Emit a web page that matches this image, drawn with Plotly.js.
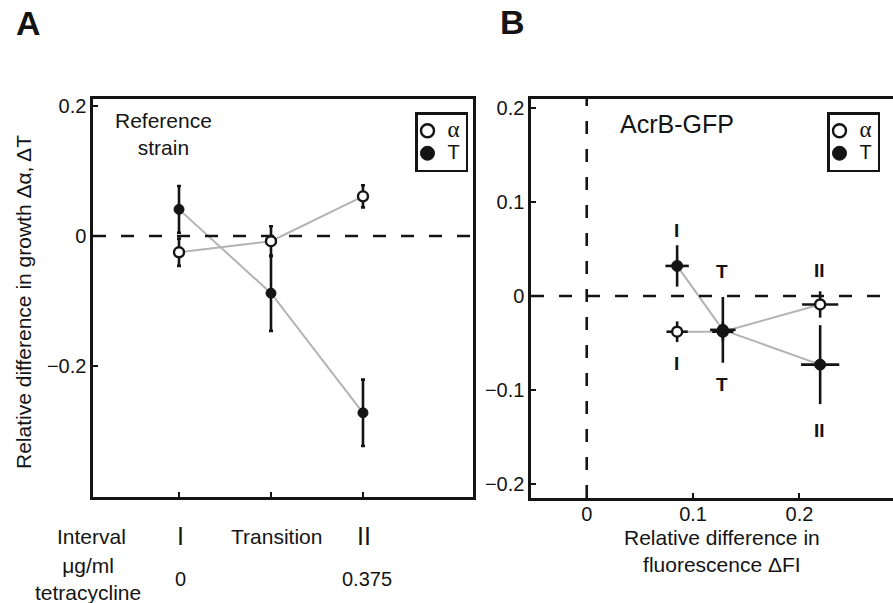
<!DOCTYPE html>
<html>
<head>
<meta charset="utf-8">
<script src="https://cdn.plot.ly/plotly-3.0.1.min.js"></script>
<style>html,body{margin:0;padding:0;background:#fff;}#chart{width:893px;height:603px;}</style>
</head>
<body>
<div id="chart"></div>
<script>
// ---------- Data (panel A: reference strain) ----------
const intervals = ['I', 'Transition', 'II'];
const intervalPos = [1, 2, 3];
const tetracycline = ['0', '', '0.375'];
const refAlpha = [-0.025, -0.008, 0.061];
const refAlphaErr = [0.021, 0.023, 0.017];
const refT = [0.041, -0.088, -0.272];
const refTErr = [0.036, 0.058, 0.051];

// ---------- Data (panel B: AcrB-GFP) ----------
const bLabels = ['I', 'T', 'II'];
const fluor = [0.085, 0.128, 0.2195];
const fluorErrAlpha = [0.010, 0.010, 0.017];
const fluorErrT = [0.011, 0.012, 0.018];
const acrAlpha = [-0.038, -0.038, -0.009];
const acrAlphaErr = [0.011, 0.010, 0.014];
const acrT = [0.032, -0.036, -0.073];
const acrTErr = [0.022, 0.035, 0.042];

const yTicksA = [-0.2, 0, 0.2];
const yTicksB = [-0.2, -0.1, 0, 0.1, 0.2];
const xTicksB = [0, 0.1, 0.2];
const seriesNames = ['α', 'T'];

// ---------- Layout helpers ----------
const W = 893, H = 603;
const px = v => v / W;
const py = v => 1 - v / H;
const FONT = 'Liberation Sans, Arial, Helvetica, sans-serif';
const SERIF = 'Liberation Serif, Times New Roman, serif';
const BLACK = '#141414';
const GREY = '#b3b3b3';

function errY(arr, w) { return {type: 'data', array: arr, visible: true, color: BLACK, thickness: 2.6, width: w}; }
function errX(arr) { return {type: 'data', array: arr, visible: true, color: BLACK, thickness: 2.6, width: 0}; }

const openMarker = size => ({symbol: 'circle', size: size, color: '#ffffff', line: {color: BLACK, width: 2.4}});
const fullMarker = size => ({symbol: 'circle', size: size, color: BLACK, line: {color: BLACK, width: 1}});

// legend entry labels (α drawn in a serif face like the original)
const legendLabel = [
  '<span style="font-family:' + SERIF + ';font-size:23px">' + seriesNames[0] + '</span>',
  '<span style="font-size:20px">' + seriesNames[1] + '</span>'
];

const traces = [
  // Panel A connecting lines
  {x: intervalPos, y: refAlpha, xaxis: 'x', yaxis: 'y', mode: 'lines', line: {color: GREY, width: 2}, showlegend: false, hoverinfo: 'skip'},
  {x: intervalPos, y: refT, xaxis: 'x', yaxis: 'y', mode: 'lines', line: {color: GREY, width: 2}, showlegend: false, hoverinfo: 'skip'},
  // Panel A points
  {x: intervalPos, y: refAlpha, xaxis: 'x', yaxis: 'y', mode: 'markers', name: seriesNames[0], error_y: errY(refAlphaErr, 2), marker: openMarker(10), showlegend: false},
  {x: intervalPos, y: refT, xaxis: 'x', yaxis: 'y', mode: 'markers', name: seriesNames[1], error_y: errY(refTErr, 2), marker: fullMarker(10), showlegend: false},
  // Panel A legend keys
  {x: [null], y: [null], xaxis: 'x', yaxis: 'y', mode: 'markers', name: legendLabel[0], marker: openMarker(13), legend: 'legend', showlegend: true},
  {x: [null], y: [null], xaxis: 'x', yaxis: 'y', mode: 'markers', name: legendLabel[1], marker: fullMarker(14), legend: 'legend', showlegend: true},

  // Panel B connecting lines
  {x: fluor, y: acrAlpha, xaxis: 'x2', yaxis: 'y2', mode: 'lines', line: {color: GREY, width: 2}, showlegend: false, hoverinfo: 'skip'},
  {x: fluor, y: acrT, xaxis: 'x2', yaxis: 'y2', mode: 'lines', line: {color: GREY, width: 2}, showlegend: false, hoverinfo: 'skip'},
  // Panel B points
  {x: fluor, y: acrAlpha, xaxis: 'x2', yaxis: 'y2', mode: 'markers', name: seriesNames[0], error_y: errY(acrAlphaErr, 0), error_x: errX(fluorErrAlpha), marker: openMarker(10), showlegend: false},
  {x: fluor, y: acrT, xaxis: 'x2', yaxis: 'y2', mode: 'markers', name: seriesNames[1], error_y: errY(acrTErr, 0), error_x: errX(fluorErrT), marker: fullMarker(11), showlegend: false},
  // Panel B legend keys
  {x: [null], y: [null], xaxis: 'x2', yaxis: 'y2', mode: 'markers', name: legendLabel[0], marker: openMarker(13), legend: 'legend2', showlegend: true},
  {x: [null], y: [null], xaxis: 'x2', yaxis: 'y2', mode: 'markers', name: legendLabel[1], marker: fullMarker(14), legend: 'legend2', showlegend: true}
];

const axisCommon = {
  showgrid: false, zeroline: false, showline: true, linecolor: BLACK, linewidth: 2.6,
  ticks: 'inside', ticklen: 5, tickwidth: 2, tickcolor: BLACK,
  tickfont: {family: FONT, size: 20, color: BLACK}, fixedrange: true
};

const legendCommon = {
  bgcolor: '#ffffff', bordercolor: BLACK, borderwidth: 2.5,
  font: {family: FONT, size: 15, color: BLACK}, itemwidth: 30, indentation: -10,
  tracegroupgap: 0, xanchor: 'left', yanchor: 'top', orientation: 'v', traceorder: 'normal'
};

const annotations = [];
function addText(text, x, y, size, opts) {
  annotations.push(Object.assign({
    text: text, x: px(x), y: py(y), xref: 'paper', yref: 'paper',
    xanchor: 'center', yanchor: 'middle', showarrow: false,
    font: {family: FONT, size: size, color: BLACK}
  }, opts || {}));
}

// Panel letters
addText('<b>A</b>', 28, 23, 34);
addText('<b>B</b>', 512, 22, 34);
// Panel A texts
addText('Reference<br>strain', 163, 134, 21);
addText('Relative difference in growth Δα, ΔT', 23, 302, 21, {textangle: -90});
addText('Interval', 91, 536, 21);
addText('μg/ml<br>tetracycline', 88, 579, 21);
// interval names and tetracycline levels under the categories of panel A
intervals.forEach((name, i) => {
  const big = name !== 'Transition';
  annotations.push({
    text: name, x: intervalPos[i], xref: 'x', y: py(536), yref: 'paper',
    xanchor: 'center', yanchor: 'middle', showarrow: false, xshift: big ? 1 : 5,
    font: {family: FONT, size: big ? 25 : 21, color: BLACK}
  });
  if (tetracycline[i] !== '') {
    annotations.push({
      text: tetracycline[i], x: intervalPos[i], xref: 'x', y: py(579), yref: 'paper',
      xanchor: 'center', yanchor: 'middle', showarrow: false, xshift: i === 0 ? 1 : 4,
      font: {family: FONT, size: 20, color: BLACK}
    });
  }
});
// Panel B texts
addText('AcrB-GFP', 677, 124, 25);
addText('Relative difference in<br>fluorescence ΔFI', 722, 551, 21);
// bold interval labels above / below each pair of points in panel B
const upperShift = [35, 58, 34];
const lowerShift = [-32, -53, -66];
bLabels.forEach((lab, i) => {
  const top = Math.max(acrAlpha[i], acrT[i]);
  const bot = Math.min(acrAlpha[i], acrT[i]);
  [[top, upperShift[i]], [bot, lowerShift[i]]].forEach(([yv, sh]) => {
    annotations.push({
      text: '<b>' + lab + '</b>', x: fluor[i], y: yv, xref: 'x2', yref: 'y2',
      xanchor: 'center', yanchor: 'middle', showarrow: false, yshift: sh, xshift: -1,
      font: {family: FONT, size: 19, color: BLACK}
    });
  });
});

const dash = '13px,15px';
const shapes = [
  {type: 'line', xref: 'x domain', yref: 'y', x0: 0, x1: 1, y0: 0, y1: 0, line: {color: BLACK, width: 2.6, dash: dash}},
  {type: 'line', xref: 'x2 domain', yref: 'y2', x0: 0, x1: 1, y0: 0, y1: 0, line: {color: BLACK, width: 2.6, dash: dash}},
  {type: 'line', xref: 'x2', yref: 'y2 domain', x0: 0, x1: 0, y0: 0, y1: 1, line: {color: BLACK, width: 2.6, dash: dash}}
];

const layout = {
  width: W, height: H,
  margin: {l: 0, r: 0, t: 0, b: 0, pad: 0},
  paper_bgcolor: '#ffffff', plot_bgcolor: '#ffffff',
  font: {family: FONT, size: 20, color: BLACK},
  showlegend: true,
  xaxis: Object.assign({}, axisCommon, {
    domain: [px(93), px(473)], range: [0.065, 4.196], anchor: 'y',
    tickvals: intervalPos, showticklabels: false, mirror: true
  }),
  yaxis: Object.assign({}, axisCommon, {
    domain: [py(497), py(99)], range: [-0.4015, 0.2108], anchor: 'x',
    tickvals: yTicksA, mirror: true
  }),
  xaxis2: Object.assign({}, axisCommon, {
    domain: [px(531), 1], range: [-0.0524, 0.288], anchor: 'y2',
    tickvals: xTicksB, mirror: true, ticklabelstandoff: -4
  }),
  yaxis2: Object.assign({}, axisCommon, {
    domain: [py(498), py(99)], range: [-0.2149, 0.2096], anchor: 'x2',
    tickvals: yTicksB, mirror: false
  }),
  legend: Object.assign({}, legendCommon, {x: px(415), y: py(112)}),
  legend2: Object.assign({}, legendCommon, {x: px(827), y: py(112)}),
  annotations: annotations,
  shapes: shapes
};

Plotly.newPlot('chart', traces, layout, {staticPlot: true, displayModeBar: false});
</script>
</body>
</html>
